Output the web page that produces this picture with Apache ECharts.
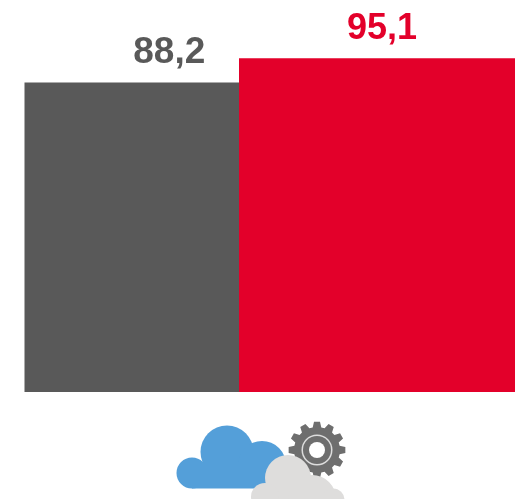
<!DOCTYPE html>
<html><head><meta charset="utf-8">
<style>html,body{margin:0;padding:0;background:#fff}#c{width:515px;height:499px}</style>
<script src="https://cdn.jsdelivr.net/npm/echarts@6/dist/echarts.min.js"></script>
</head><body><div id="c"></div>
<script>
const categories = ['Cloud'];
const seriesNames = ['A', 'B'];
const valuesA = [88.2];
const valuesB = [95.1];
const labelsA = ['88,2'];
const labelsB = ['95,1'];

const GREY = '#595959', RED = '#E3002A', BLUE = '#549FD9', LIGHT = '#DEDDDC', GEAR = '#6E6E6E';
function circle(cx, cy, r, fill, z) {
  return {type: 'circle', shape: {cx, cy, r}, style: {fill}, z: z, silent: true};
}
function gearPoints(cx, cy, rOut, rIn, teeth) {
  const pts = [];
  const step = Math.PI * 2 / teeth;
  for (let i = 0; i < teeth; i++) {
    const a = i * step - Math.PI / 2;
    [[-0.36, rIn], [-0.2, rOut], [0.2, rOut], [0.36, rIn]].forEach(([f, r]) => {
      pts.push([cx + r * Math.cos(a + f * step), cy + r * Math.sin(a + f * step)]);
    });
  }
  return pts;
}
const icon = [
  {type: 'polygon', shape: {points: gearPoints(317, 450, 28.5, 23, 12)}, style: {fill: GEAR}, z: 10, silent: true},
  circle(317, 450, 15.5, '#DDDDDD', 11),
  circle(317, 450, 14, GEAR, 12),
  circle(317, 450, 8, '#fff', 13),
  circle(227, 452, 26.5, BLUE, 20),
  circle(192, 473, 15.5, BLUE, 20),
  circle(262, 465, 24, BLUE, 20),
  {type: 'rect', shape: {x: 192, y: 462, width: 80, height: 26.5}, style: {fill: BLUE}, z: 20, silent: true},
  circle(288, 478, 23, LIGHT, 30),
  circle(265, 497, 14, LIGHT, 30),
  circle(312, 499, 24, LIGHT, 30),
  circle(333, 500, 11.5, LIGHT, 30)
];

const chart = echarts.init(document.getElementById('c'), null, {renderer: 'canvas'});
const labelBase = {show: true, position: 'top', fontFamily: 'Liberation Sans', fontWeight: 'bold'};
chart.setOption({
  animation: false,
  grid: {left: 24.5, right: 0, top: 41, bottom: 107, containLabel: false},
  xAxis: {type: 'category', data: categories, show: false},
  yAxis: {type: 'value', min: 0, max: 100, show: false},
  series: [
    {name: seriesNames[0], type: 'bar', data: valuesA, barWidth: 214.5, barGap: 0,
     itemStyle: {color: GREY},
     label: Object.assign({}, labelBase, {color: GREY, fontSize: 37, distance: 11, offset: [37.5, 0], formatter: () => labelsA[0]})},
    {name: seriesNames[1], type: 'bar', data: valuesB, barWidth: 276, barGap: 0,
     itemStyle: {color: RED},
     label: Object.assign({}, labelBase, {color: RED, fontSize: 36, distance: 11, offset: [5, 0], formatter: () => labelsB[0]})}
  ],
  graphic: {elements: icon}
});
</script></body></html>
